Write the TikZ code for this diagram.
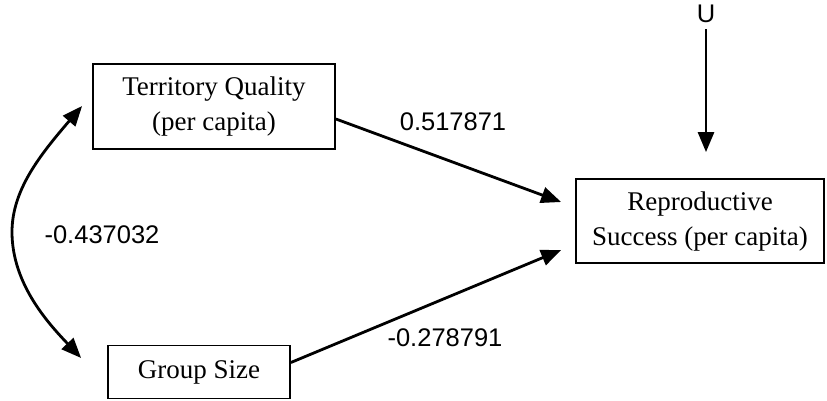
\documentclass[tikz,border=0pt]{standalone}
\usepackage{fontspec}
\setmainfont{Liberation Serif}
\newfontfamily\lab{Liberation Sans}
\usetikzlibrary{arrows.meta}
\begin{document}
\begin{tikzpicture}[x=1pt,y=-1pt,
  box/.style={draw,line width=1.8pt,inner sep=0pt,align=center,font=\fontsize{27}{35}\selectfont},
  coef/.style={font=\lab\fontsize{25.5}{30}\selectfont,inner sep=0pt},
  conn/.style={line width=2.8pt,-{Triangle[length=20pt,width=16pt]}},
  biconn/.style={line width=2.8pt,{Triangle[length=20pt,width=16pt]}-{Triangle[length=20pt,width=16pt]}}]
\useasboundingbox (0,0) rectangle (827,400);
\node[box,minimum width=242pt,minimum height=85pt] (T) at (214,106.5) {Territory Quality\\(per capita)};
\node[box,minimum width=248pt,minimum height=84pt] (R) at (700,221) {Reproductive\\Success (per capita)};
\node[box,minimum width=182pt,minimum height=53pt] (G) at (199,372) {Group Size};
\node[coef] (U) at (706,14) {U};
\node[coef] (c1) at (453,122) {0.517871};
\node[coef] (c2) at (445,338) {-0.278791};
\node[coef] (c3) at (102,235) {-0.437032};
\draw[conn] ([yshift=-12.5pt]T.east) -- ([xshift=-14pt,yshift=19pt]R.west);
\draw[conn] ([yshift=9.5pt]G.east) -- ([xshift=-14pt,yshift=-29pt]R.west);
\draw[conn,shorten >=26pt] ([yshift=-6pt]U.south) -- (U.south |- R.north);
\draw[biconn] ([xshift=-10pt,yshift=0.5pt]T.west) .. controls (40,155) and (12,190) .. (12,232) .. controls (12,285) and (50,325) .. ([xshift=-26pt,yshift=14pt]G.west);
\end{tikzpicture}
\end{document}
